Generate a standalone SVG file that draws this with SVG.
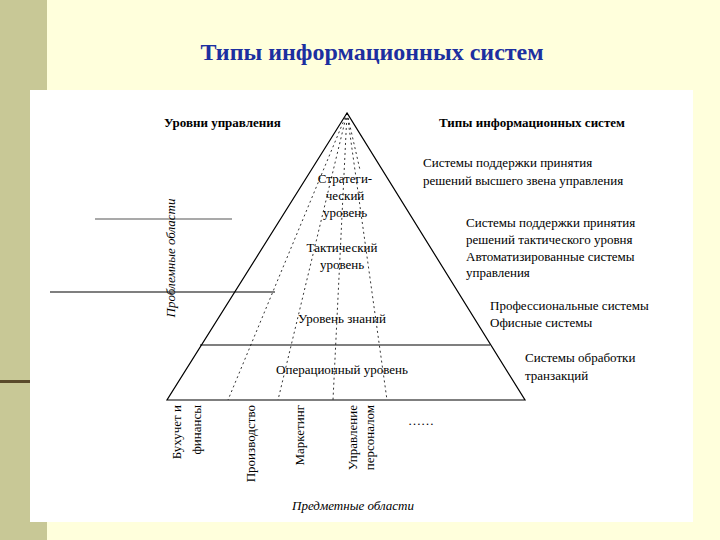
<svg xmlns="http://www.w3.org/2000/svg" width="720" height="540" viewBox="0 0 720 540">
<style>
.t{font-family:"Liberation Serif","Times New Roman","DejaVu Serif",serif;font-size:13px;fill:#000}
.ttl{font-family:"Liberation Serif","Times New Roman","DejaVu Serif",serif;font-size:24px;font-weight:bold;fill:#1c2fa0}
.b{font-weight:bold}
.i{font-style:italic}
.d{stroke:#000;stroke-width:0.8;stroke-dasharray:2,3;fill:none}
.s{stroke:#000;stroke-width:1.2;fill:none}
</style>
<rect width="720" height="540" fill="#ffffdc"/>
<rect x="0" y="0" width="47" height="540" fill="#c8c896"/>
<rect x="0" y="380" width="30" height="3" fill="#5a4a2a"/>
<rect x="30" y="90" width="663" height="432" fill="#fff"/>
<text class="ttl" x="372" y="60" text-anchor="middle">Типы информационных систем</text>
<g id="connectors">
<polygon points="347,113 167,400 525,400" class="s"/>
<line x1="200" y1="345" x2="490" y2="345" class="s" stroke-width="1"/>
<line x1="95" y1="219" x2="232" y2="219" stroke="#555" stroke-width="1.2"/>
<line x1="50" y1="292" x2="275" y2="292" stroke="#000" stroke-width="1.2"/>
<line x1="347" y1="113" x2="228" y2="400" class="d"/>
<line x1="347" y1="113" x2="278" y2="400" class="d"/>
<line x1="347" y1="113" x2="333" y2="400" class="d"/>
<line x1="347" y1="113" x2="387" y2="400" class="d"/>
<line x1="347" y1="113" x2="360" y2="170" class="d"/>
</g>
<g id="levels">
<text class="t b" x="164" y="127">Уровни управления</text>
<text class="t b" x="439" y="127">Типы информационных систем</text>
<text class="t" x="345" y="183" text-anchor="middle">Стратеги-</text>
<text class="t" x="345" y="200" text-anchor="middle">ческий</text>
<text class="t" x="345" y="217" text-anchor="middle">уровень</text>
<text class="t" x="342" y="252" text-anchor="middle">Тактический</text>
<text class="t" x="342" y="269" text-anchor="middle">уровень</text>
<text class="t" x="342" y="323" text-anchor="middle">Уровень знаний</text>
<text class="t" x="342" y="374" text-anchor="middle">Операционный уровень</text>
</g>
<g id="systems">
<text class="t" x="423" y="167">Системы поддержки принятия</text>
<text class="t" x="423" y="185">решений высшего звена управления</text>
<text class="t" x="466" y="227">Системы поддержки принятия</text>
<text class="t" x="466" y="244">решений тактического уровня</text>
<text class="t" x="466" y="261">Автоматизированные системы</text>
<text class="t" x="466" y="277">управления</text>
<text class="t" x="490" y="310">Профессиональные системы</text>
<text class="t" x="490" y="327">Офисные системы</text>
<text class="t" x="525" y="362">Системы обработки</text>
<text class="t" x="525" y="380">транзакций</text>
</g>
<g id="areas">
<text class="t i" transform="translate(175,258) rotate(-90)" text-anchor="middle">Проблемные области</text>
<text class="t" transform="translate(181,405) rotate(-90)" text-anchor="end">Бухучет и</text>
<text class="t" transform="translate(201,405) rotate(-90)" text-anchor="end">финансы</text>
<text class="t" transform="translate(255,405) rotate(-90)" text-anchor="end">Производство</text>
<text class="t" transform="translate(304,405) rotate(-90)" text-anchor="end">Маркетинг</text>
<text class="t" transform="translate(357,405) rotate(-90)" text-anchor="end">Управление</text>
<text class="t" transform="translate(374,405) rotate(-90)" text-anchor="end">персоналом</text>
<text class="t" x="408" y="425">……</text>
<text class="t i" x="353" y="510" text-anchor="middle">Предметные области</text>
</g>
</svg>
